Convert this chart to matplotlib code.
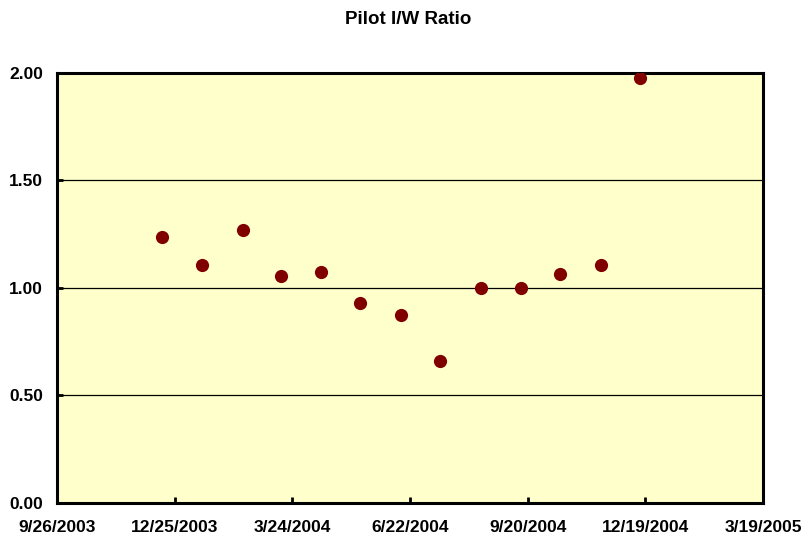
import numpy as np
import pandas as pd
import matplotlib
matplotlib.use('Agg')
import matplotlib.pyplot as plt
import matplotlib.dates as mdates

# monthly pilot I/W ratio readings
dates = pd.to_datetime([
    '2003-12-15', '2004-01-15', '2004-02-15', '2004-03-15', '2004-04-15',
    '2004-05-15', '2004-06-15', '2004-07-15', '2004-08-15', '2004-09-15',
    '2004-10-15', '2004-11-15', '2004-12-15',
])
ratio = [1.235, 1.105, 1.27, 1.055, 1.075, 0.93, 0.875, 0.66, 1.0, 1.0, 1.065, 1.105, 1.975]

x_start = pd.Timestamp('2003-09-26')
x_end = pd.Timestamp('2005-03-19')
y_ticks = [0.0, 0.5, 1.0, 1.5, 2.0]

plt.rcParams['font.family'] = ['Liberation Sans', 'DejaVu Sans']

fig = plt.figure(figsize=(8.01, 5.36), dpi=100)
ax = fig.add_axes([0.0712, 0.0616, 0.8814, 0.8028])
ax.set_facecolor('#FFFFCC')

ax.plot(dates, ratio, 'o', color='#800000', markersize=9.5, markeredgewidth=0, zorder=3)

ax.set_xlim(x_start, x_end)
ax.set_ylim(0, 2.0)

xt = pd.date_range(x_start, x_end, freq='90D')
ax.set_xticks(xt)
ax.set_xticklabels([f'{d.month}/{d.day}/{d.year}' for d in xt])
ax.set_yticks(y_ticks)
ax.set_yticklabels([f'{v:.2f}' for v in y_ticks])

for v in y_ticks[1:-1]:
    ax.axhline(v, color='black', lw=0.9, zorder=1)

for s in ax.spines.values():
    s.set_linewidth(2.2)
    s.set_color('black')

ax.tick_params(axis='both', direction='in', length=4, width=2, labelsize=12.5)
ax.tick_params(axis='x', pad=12)
ax.tick_params(axis='y', pad=10)
for lab in ax.get_xticklabels() + ax.get_yticklabels():
    lab.set_fontweight('bold')

fig.text(0.509, 1 - 20 / 536, 'Pilot I/W Ratio', ha='center', va='center',
         fontsize=13.5, fontweight='bold')

plt.savefig('out.png', dpi=100)
